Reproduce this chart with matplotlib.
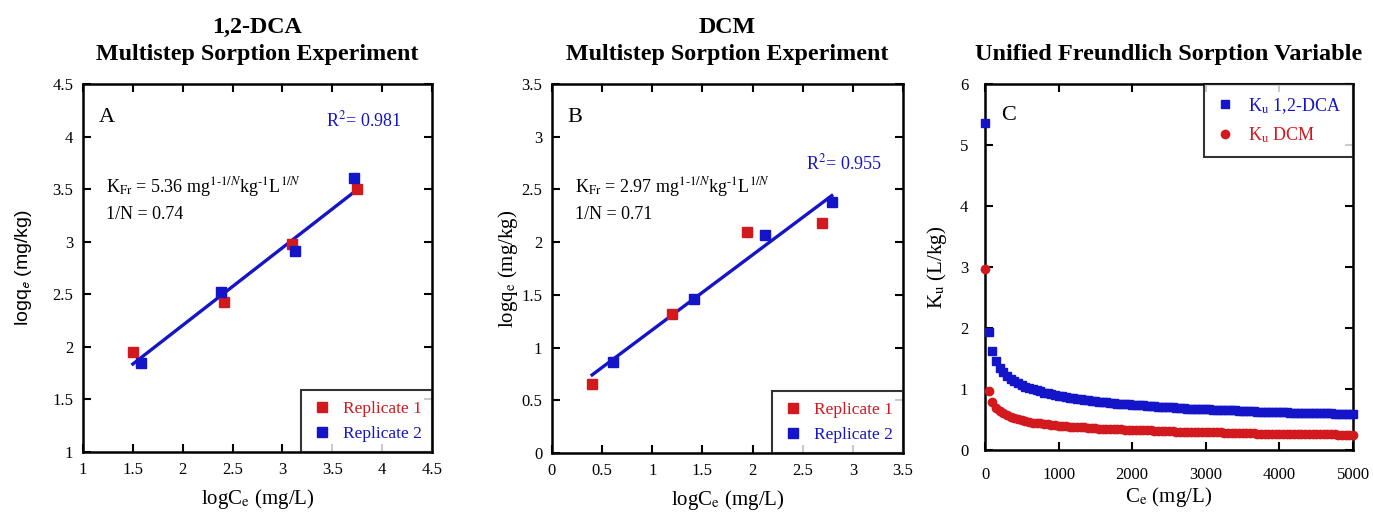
import numpy as np
import matplotlib.pyplot as plt

plt.rcParams['font.family'] = ['Liberation Serif', 'DejaVu Serif']
plt.rcParams['mathtext.fontset'] = 'stix'

RED = '#D2191E'
BLUE = '#1414C8'

# Panel A: 1,2-DCA  (logCe, logqe)
dca_x1 = [1.50, 2.41, 3.10, 3.75]
dca_y1 = [1.95, 2.43, 2.98, 3.50]
dca_x2 = [1.58, 2.38, 3.13, 3.72]
dca_y2 = [1.85, 2.52, 2.91, 3.61]

# Panel B: DCM
dcm_x1 = [0.40, 1.20, 1.94, 2.69]
dcm_y1 = [0.65, 1.32, 2.10, 2.18]
dcm_x2 = [0.61, 1.42, 2.12, 2.79]
dcm_y2 = [0.86, 1.46, 2.07, 2.38]

# Panel C: unified Freundlich variable Ku vs Ce
ce = [1, 50, 100, 150, 200, 250, 300, 350, 400, 450, 500,
      600, 700, 800, 900, 1000, 1100, 1200, 1300, 1400, 1500,
      1600, 1700, 1800, 1900, 2000, 2100, 2200, 2300, 2400, 2500,
      2600, 2700, 2800, 2900, 3000, 3100, 3200, 3300, 3400, 3500,
      3600, 3700, 3800, 3900, 4000, 4100, 4200, 4300, 4400, 4500,
      4600, 4700, 4800, 4900, 5000]
ku_dca = [5.36, 1.94, 1.62, 1.46, 1.35, 1.28, 1.22, 1.17, 1.13, 1.10, 1.07,
          1.02, 0.98, 0.94, 0.91, 0.89, 0.87, 0.85, 0.83, 0.82, 0.80,
          0.79, 0.77, 0.76, 0.75, 0.74, 0.73, 0.72, 0.72, 0.71, 0.70,
          0.69, 0.69, 0.68, 0.67, 0.67, 0.66, 0.66, 0.65, 0.65, 0.64,
          0.64, 0.63, 0.63, 0.62, 0.62, 0.62, 0.61, 0.61, 0.61, 0.60,
          0.60, 0.60, 0.59, 0.59, 0.59]
ku_dcm = [2.97, 0.96, 0.78, 0.69, 0.64, 0.60, 0.57, 0.54, 0.52, 0.51, 0.49,
          0.46, 0.44, 0.43, 0.41, 0.40, 0.39, 0.38, 0.37, 0.36, 0.36,
          0.35, 0.34, 0.34, 0.33, 0.33, 0.32, 0.32, 0.31, 0.31, 0.31,
          0.30, 0.30, 0.30, 0.29, 0.29, 0.29, 0.29, 0.28, 0.28, 0.28,
          0.28, 0.27, 0.27, 0.27, 0.27, 0.27, 0.26, 0.26, 0.26, 0.26,
          0.26, 0.26, 0.25, 0.25, 0.25]
# in-between points of the dense band (550 ... 4950)
ce_mid = [550, 650, 750, 850, 950, 1050, 1150, 1250, 1350, 1450,
          1550, 1650, 1750, 1850, 1950, 2050, 2150, 2250, 2350, 2450,
          2550, 2650, 2750, 2850, 2950, 3050, 3150, 3250, 3350, 3450,
          3550, 3650, 3750, 3850, 3950, 4050, 4150, 4250, 4350, 4450,
          4550, 4650, 4750, 4850, 4950]
ku_dca_mid = [1.04, 1.00, 0.96, 0.93, 0.90, 0.88, 0.86, 0.84, 0.82, 0.81,
              0.79, 0.78, 0.77, 0.76, 0.75, 0.74, 0.73, 0.72, 0.71, 0.70,
              0.70, 0.69, 0.68, 0.68, 0.67, 0.67, 0.66, 0.65, 0.65, 0.64,
              0.64, 0.64, 0.63, 0.63, 0.62, 0.62, 0.61, 0.61, 0.61, 0.60,
              0.60, 0.60, 0.59, 0.59, 0.59]
ku_dcm_mid = [0.48, 0.45, 0.44, 0.42, 0.41, 0.40, 0.38, 0.38, 0.37, 0.36,
              0.35, 0.35, 0.34, 0.34, 0.33, 0.33, 0.32, 0.32, 0.31, 0.31,
              0.31, 0.30, 0.30, 0.30, 0.29, 0.29, 0.29, 0.28, 0.28, 0.28,
              0.28, 0.28, 0.27, 0.27, 0.27, 0.27, 0.27, 0.26, 0.26, 0.26,
              0.26, 0.26, 0.26, 0.25, 0.25]

W, H = 1373, 516
fig = plt.figure(figsize=(W / 100, H / 100), dpi=100)


def px_axes(left, top, right, bottom):
    return fig.add_axes([left / W, 1 - bottom / H, (right - left) / W, (bottom - top) / H])


def style(ax, pad=7):
    for s in ax.spines.values():
        s.set_linewidth(1.8)
    ax.tick_params(direction='in', top=True, right=True, length=6, width=1.5,
                   labelsize=12, pad=pad)


def iso_panel(ax, x1, y1, x2, y2, letter, kfr, invn, r2, r2pos):
    ax.plot(x1, y1, 's', color=RED, ms=6.5, label='Replicate 1', zorder=3)
    ax.plot(x2, y2, 's', color=BLUE, ms=6.5, label='Replicate 2', zorder=3)
    xs = np.array(x1 + x2)
    ys = np.array(y1 + y2)
    slope, icpt = np.polyfit(xs, ys, 1)
    xl = np.array([min(xs), max(xs)])
    ax.plot(xl, icpt + slope * xl, '-', color=BLUE, lw=2.4, zorder=2)
    ax.text(0.045, 0.91, letter, transform=ax.transAxes, fontsize=16, va='center')
    ax.text(r2pos[0], r2pos[1], r'R$^2$= ' + r2, transform=ax.transAxes,
            fontsize=13, color=BLUE, va='center')
    ax.text(0.065, 0.72, r'K$_{\mathrm{Fr}}$ = ' + kfr +
            ' mg$^{1\u2010 1/N}$kg$^{\u2010 1}$L$^{1/N}$',
            transform=ax.transAxes, fontsize=13, va='center')
    ax.text(0.065, 0.645, '1/N = ' + invn, transform=ax.transAxes, fontsize=13, va='center')
    leg = ax.legend(loc='lower right', fontsize=12.5, frameon=True, fancybox=False,
                    borderaxespad=0, handletextpad=0.6, handlelength=1.2,
                    borderpad=0.6, markerscale=1.1)
    leg.get_frame().set_edgecolor('black')
    leg.get_frame().set_linewidth(1.5)
    for t, c in zip(leg.get_texts(), [RED, BLUE]):
        t.set_color(c)
    style(ax)


# Panel A
axA = px_axes(83, 84, 432, 452)
iso_panel(axA, dca_x1, dca_y1, dca_x2, dca_y2, 'A', '5.36', '0.74', '0.981', (0.695, 0.90))
axA.set_xlim(1, 4.5)
axA.set_ylim(1, 4.5)
axA.set_xticks(np.arange(1, 4.51, 0.5))
axA.set_yticks(np.arange(1, 4.51, 0.5))
axA.set_xticklabels(['1', '1.5', '2', '2.5', '3', '3.5', '4', '4.5'])
axA.set_yticklabels(['1', '1.5', '2', '2.5', '3', '3.5', '4', '4.5'])
axA.set_xlabel(r'logC$_\mathrm{e}$ (mg/L)', fontsize=15, labelpad=7)
axA.set_ylabel(r'logq$_\mathsf{e}$ (mg/kg)', fontsize=14, family='Liberation Sans', labelpad=13)
axA.set_title('1,2-DCA\nMultistep Sorption Experiment', fontsize=17.3, fontweight='bold',
              pad=17, linespacing=1.4)

# Panel B
axB = px_axes(552, 84, 903, 453)
iso_panel(axB, dcm_x1, dcm_y1, dcm_x2, dcm_y2, 'B', '2.97', '0.71', '0.955', (0.725, 0.786))
axB.set_xlim(0, 3.5)
axB.set_ylim(0, 3.5)
axB.set_xticks(np.arange(0, 3.51, 0.5))
axB.set_yticks(np.arange(0, 3.51, 0.5))
axB.set_xticklabels(['0', '0.5', '1', '1.5', '2', '2.5', '3', '3.5'])
axB.set_yticklabels(['0', '0.5', '1', '1.5', '2', '2.5', '3', '3.5'])
axB.set_xlabel(r'logC$_\mathrm{e}$ (mg/L)', fontsize=15, labelpad=7)
axB.set_ylabel(r'logq$_\mathrm{e}$ (mg/kg)', fontsize=15, labelpad=1)
axB.set_title('DCM\nMultistep Sorption Experiment', fontsize=17.3, fontweight='bold',
              pad=17, linespacing=1.4)

# Panel C
axC = px_axes(985, 84, 1353, 450)
axC.plot(ce + ce_mid, ku_dca + ku_dca_mid, 's', color=BLUE, ms=6, clip_on=False, zorder=3,
         label=r'K$_\mathrm{u}$ 1,2-DCA')
axC.plot(ce + ce_mid, ku_dcm + ku_dcm_mid, 'o', color=RED, ms=6, clip_on=False, zorder=3,
         label=r'K$_\mathrm{u}$ DCM')
axC.set_xlim(0, 5000)
axC.set_ylim(0, 6)
axC.set_xticks([0, 1000, 2000, 3000, 4000, 5000])
axC.set_yticks([0, 1, 2, 3, 4, 5, 6])
axC.text(0.045, 0.915, 'C', transform=axC.transAxes, fontsize=16, va='center')
legC = axC.legend(loc='upper right', fontsize=13, frameon=True, fancybox=False,
                  borderaxespad=0, handletextpad=0.8, handlelength=1.0,
                  borderpad=0.65, labelspacing=0.55, markerscale=1.0)
legC.get_frame().set_edgecolor('black')
legC.get_frame().set_linewidth(1.5)
for t, c in zip(legC.get_texts(), [BLUE, RED]):
    t.set_color(c)
style(axC, pad=12)
axC.set_xlabel(r'C$_\mathrm{e}$ (mg/L)', fontsize=15, labelpad=2)
axC.set_ylabel(r'K$_\mathrm{u}$ (L/kg)', fontsize=15, labelpad=8)
axC.set_title('Unified Freundlich Sorption Variable', fontsize=17.5, fontweight='bold', pad=17)

fig.savefig('out.png', dpi=100)
